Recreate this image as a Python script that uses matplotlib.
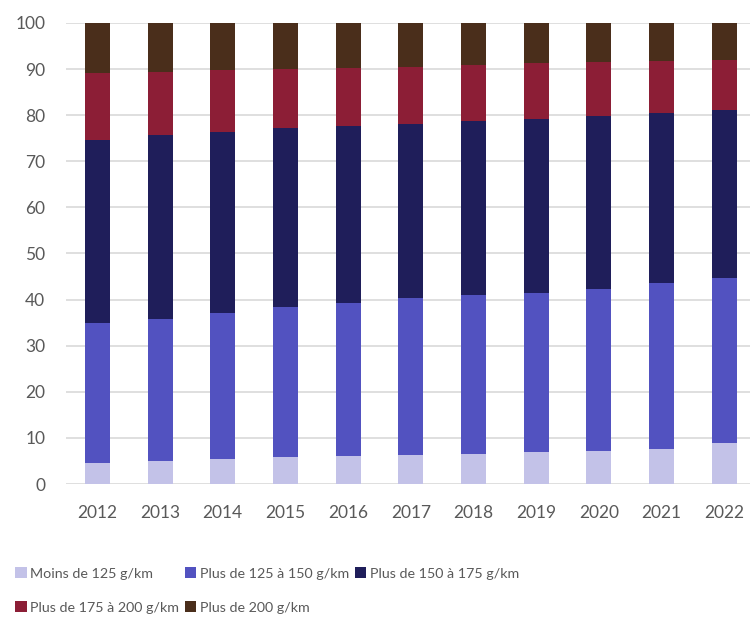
import numpy as np
import matplotlib.pyplot as plt

# ==============================
# Data (share of new cars by CO2 class, %)
# ==============================

years = ["2012", "2013", "2014", "2015", "2016", "2017",
         "2018", "2019", "2020", "2021", "2022"]

labels = ["Moins de 125 g/km", "Plus de 125 à 150 g/km", "Plus de 150 à 175 g/km",
          "Plus de 175 à 200 g/km", "Plus de 200 g/km"]

moins_125 = [4.5, 5.0, 5.4, 5.9, 6.1, 6.4, 6.6, 6.9, 7.2, 7.6, 8.8]
de_125_150 = [30.5, 30.9, 31.8, 32.4, 33.1, 33.9, 34.3, 34.6, 35.0, 35.9, 35.8]
de_150_175 = [39.5, 39.7, 39.1, 38.9, 38.5, 37.8, 37.8, 37.7, 37.6, 36.9, 36.5]
de_175_200 = [14.6, 13.8, 13.4, 12.8, 12.5, 12.4, 12.1, 12.0, 11.8, 11.4, 10.9]
plus_200 = [10.9, 10.6, 10.3, 10.0, 9.8, 9.5, 9.2, 8.8, 8.4, 8.2, 8.0]

colors = ["#C3C2E8", "#5252C0", "#1F1E5A", "#8C1E36", "#4A2E1B"]

# ==============================
# Plot
# ==============================

plt.rcParams["font.family"] = ["Lato", "DejaVu Sans"]
text_col = "#595959"

fig = plt.figure(figsize=(7.5, 6.19), dpi=100)
ax = fig.add_axes([0.088, 0.218, 0.912, 0.745])

series = [moins_125, de_125_150, de_150_175, de_175_200, plus_200]
x = np.arange(len(years))
bottom = np.zeros(len(years))
handles = []
for vals, col, lab in zip(series, colors, labels):
    b = ax.bar(x, vals, width=0.4, bottom=bottom, color=col, label=lab, zorder=3)
    handles.append(b)
    bottom += np.array(vals)

ax.set_ylim(0, 100)
ax.set_xlim(-0.5, 10.41)
ax.set_yticks(range(0, 101, 10))
ax.set_xticks(x)
ax.set_xticklabels(years)
ax.tick_params(length=0, colors=text_col, labelsize=12.5)
ax.tick_params(axis="x", pad=15)
ax.tick_params(axis="y", pad=15)
ax.grid(axis="y", color="#D9D9D9", linewidth=1.2, zorder=0)
for s in ax.spines.values():
    s.set_visible(False)

# legend laid out row by row (matplotlib fills columns first)
order = [0, 3, 1, 4, 2]
leg = fig.legend([handles[i] for i in order], [labels[i] for i in order],
                 ncol=3, loc="upper left", bbox_to_anchor=(0.003, 0.104),
                 frameon=False, fontsize=10.3, handlelength=0.8, handleheight=0.8,
                 handletextpad=0.25, columnspacing=0.4, labelspacing=1.5)
for t in leg.get_texts():
    t.set_color(text_col)

fig.savefig("out.png", dpi=100)
